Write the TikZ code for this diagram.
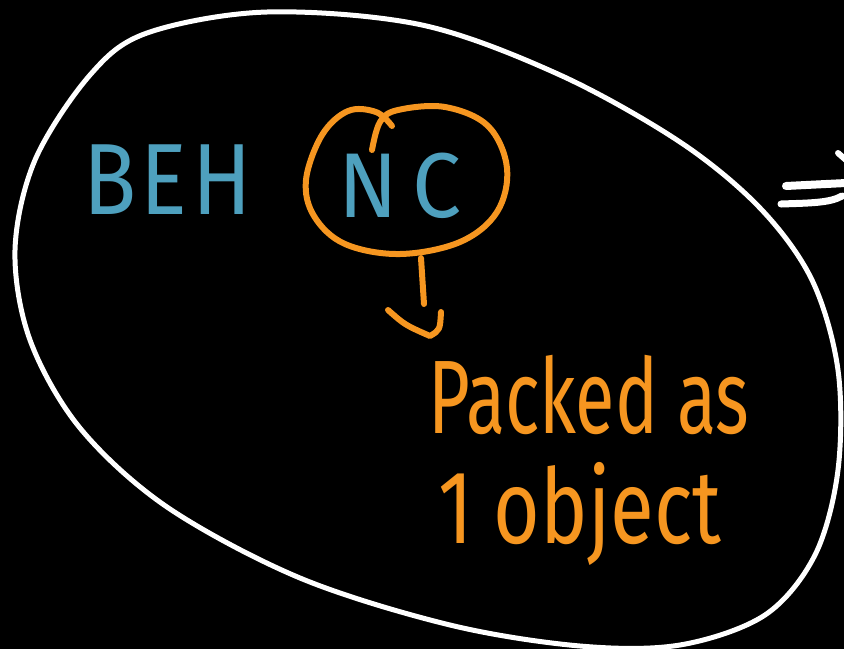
\documentclass[tikz,border=0pt]{standalone}
\usepackage{fontspec}
\setmainfont{Fira Sans}
\definecolor{chalkblue}{RGB}{78,160,190}
\definecolor{chalkorange}{RGB}{246,150,32}
\begin{document}
\begin{tikzpicture}[x=1pt,y=-1pt,
  chalk/.style={line width=#1, line cap=round, line join=round},
  bluetxt/.style={text=chalkblue, inner sep=0pt, font=\fontsize{92}{92}\selectfont},
  orangetxt/.style={text=chalkorange, inner sep=0pt, anchor=base west}]
\useasboundingbox (0,0) rectangle (844,649);
\fill[black] (0,0) rectangle (844,649);
% outer ellipse
\draw[white, chalk=5pt] plot[smooth cycle, tension=0.55] coordinates {
  (147,33) (267,12) (422,25) (560,75) (680,142) (760,208) (812,280)
  (838,370) (838,470) (815,555) (765,615) (680,645) (580,646) (450,625)
  (300,578) (167,507) (80,428) (30,340) (15,250) (35,160) (90,75)};
% implies sign (cut at the edge)
\coordinate (eqa1) at (786,186); \coordinate (eqa2) at (846,183);
\coordinate (eqb1) at (781,204); \coordinate (eqb2) at (842,196);
\draw[white, chalk=8pt] (eqa1) -- (eqa2);
\draw[white, chalk=7pt] (eqb1) .. controls (810,203) and (830,203) .. (eqb2);
\coordinate (gt1) at (838,153); \coordinate (gt2) at (846,160);
\draw[white, chalk=6pt] (gt1) -- (gt2);
% blue letters
\node[bluetxt] (beh) at (168,180) {\scalebox{0.95}[1.1]{B\kern4pt E\kern6pt H}};
\node[bluetxt] (nc) at (400,186) {\scalebox{0.95}[1.0]{N\,C}};
% orange loop around NC
\draw[chalkorange, chalk=6pt] plot[smooth, tension=0.6] coordinates {
  (372,150) (380,122) (398,110) (445,107) (488,126) (507,168) (497,212)
  (460,242) (400,254) (345,244) (314,216) (306,180) (322,135) (348,111)
  (376,112) (392,126)};
% arrow
\coordinate (arrtop) at (421,258);
\coordinate (arrmid) at (424,304);
\coordinate (arrtip) at (430,336);
\coordinate (arrl) at (388,310);
\coordinate (arrr) at (441,312);
\draw[chalkorange, chalk=6pt] (arrtop) -- (arrmid);
\draw[chalkorange, chalk=6pt] (arrl) .. controls (405,325) .. (arrtip) .. controls (440,330) .. (arrr);
% orange text
\node[orangetxt] (packed) at (428,433) {\fontsize{72}{72}\selectfont\scalebox{1}[1.45]{Packed as}};
\node[orangetxt] (obj) at (438,543) {\fontsize{80}{80}\selectfont\scalebox{1}[1.3]{1 object}};
\end{tikzpicture}
\end{document}
